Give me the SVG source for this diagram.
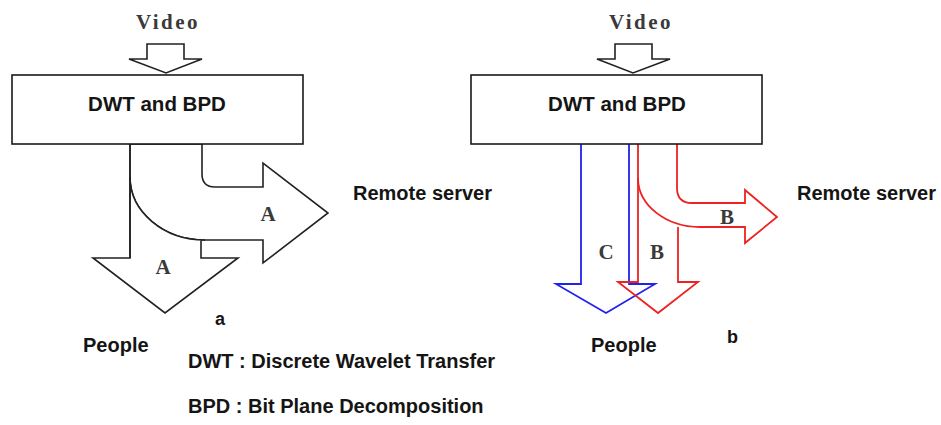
<svg xmlns="http://www.w3.org/2000/svg" width="941" height="425" viewBox="0 0 941 425">
<style>
.bg{fill:#ffffff}
.box{fill:#ffffff;stroke:#1a1a1a;stroke-width:1.6}
.sans{font-family:"Liberation Sans",Arial,sans-serif;font-weight:bold;fill:#151515}
.serif{font-family:"Liberation Serif","Times New Roman",serif;font-weight:bold;fill:#3a3a3a}
.blk{fill:#ffffff;stroke:#222222;stroke-width:1.6;stroke-linejoin:miter}
.open{fill:none;stroke:#222222;stroke-width:1.6}
.red{fill:none;stroke:#ee2222;stroke-width:1.8}
.blue{fill:none;stroke:#2222ee;stroke-width:1.8}
</style>
<rect class="bg" x="0" y="0" width="941" height="425"/>

<g id="connectors">
  <!-- left panel: video input arrow -->
  <path class="blk" d="M147,44 H184 V59 H202 L166,73 L129,59 H147 Z"/>
  <!-- left panel: A to remote server -->
  <path class="blk" d="M202,144 V174 Q202,187 215,187 H263 V163 L328,213 L263,263 V240 H205 A75,63 0 0 1 130,177 V144 Z"/>
  <!-- left panel: A to people -->
  <path class="blk" d="M130,177 A75,63 0 0 0 205,240 H201 V258 H238 L165,313 L93,258 H130 Z"/>
  <path class="open" d="M130,144 V258"/>
  <!-- right panel: video input arrow -->
  <path class="blk" d="M615,44 H652 V59 H670 L633,73 L597,59 H615 Z"/>
  <!-- right panel: C to people (blue) -->
  <path class="blue" d="M581,144 V284 H556 L606,313 L655,284 H629 V144"/>
  <!-- right panel: B to people (red) -->
  <path class="red" d="M638,144 V282 H618 L658,313 L698,282 H678 V227"/>
  <!-- right panel: B to remote server (red) -->
  <path class="red" d="M677,144 V188 Q677,203 692,203 H745 V190 L777,217 L745,243 V227 H700 A62,49 0 0 1 638,178"/>
</g>

<g id="node-a">
  <rect class="box" x="12" y="75" width="291" height="69"/>
  <text class="sans" x="157" y="111" font-size="20.5" text-anchor="middle">DWT and BPD</text>
</g>
<g id="node-b">
  <rect class="box" x="471" y="75" width="291" height="69"/>
  <text class="sans" x="617" y="111" font-size="20.5" text-anchor="middle">DWT and BPD</text>
</g>

<g id="labels">
  <text class="serif" x="168" y="29" font-size="21" letter-spacing="2.5" text-anchor="middle">Video</text>
  <text class="serif" x="641" y="29" font-size="21" letter-spacing="2.5" text-anchor="middle">Video</text>
  <text class="serif" x="268" y="221" font-size="21" text-anchor="middle">A</text>
  <text class="serif" x="163" y="274" font-size="21" text-anchor="middle">A</text>
  <text class="serif" x="606" y="259" font-size="21" text-anchor="middle">C</text>
  <text class="serif" x="657" y="259" font-size="21" text-anchor="middle">B</text>
  <text class="serif" x="727" y="224" font-size="21" text-anchor="middle">B</text>
  <text class="sans" x="353" y="200" font-size="20">Remote server</text>
  <text class="sans" x="797" y="200" font-size="20">Remote server</text>
  <text class="sans" x="83" y="352" font-size="20">People</text>
  <text class="sans" x="591" y="352" font-size="20">People</text>
  <text class="sans" x="215" y="325" font-size="18">a</text>
  <text class="sans" x="727" y="343" font-size="18">b</text>
  <text class="sans" x="188" y="368" font-size="20">DWT : Discrete Wavelet Transfer</text>
  <text class="sans" x="188" y="413" font-size="20">BPD : Bit Plane Decomposition</text>
</g>
</svg>
